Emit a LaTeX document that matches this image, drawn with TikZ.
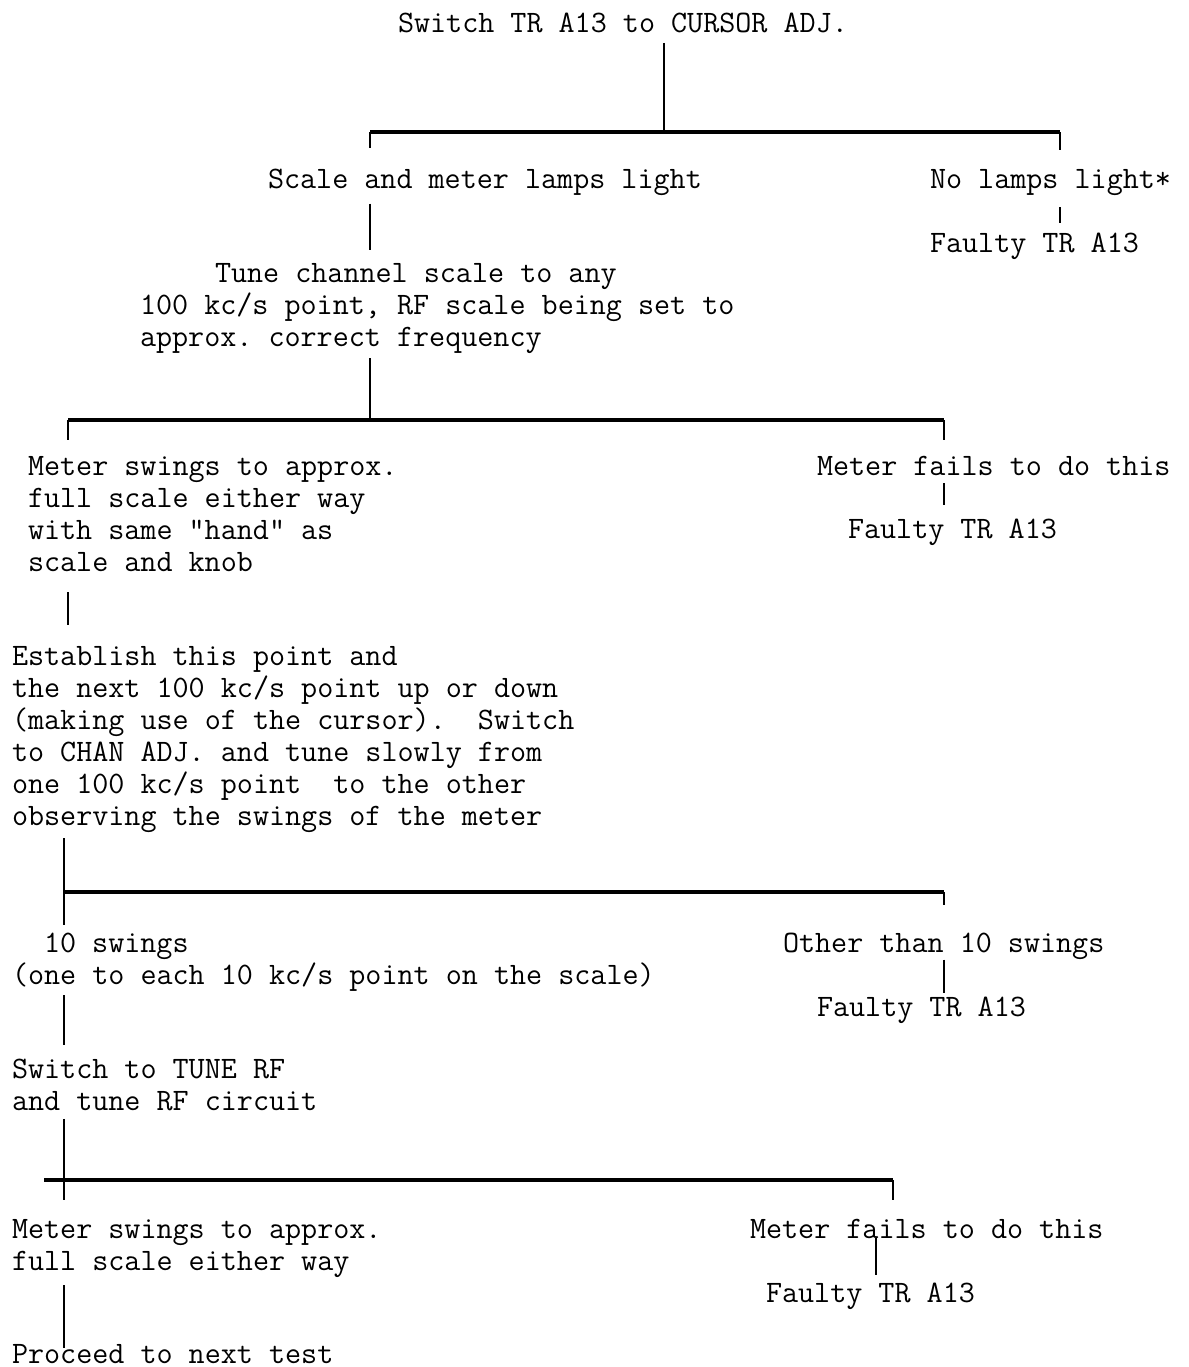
\documentclass[tikz,border=0pt]{standalone}
\usepackage{fontspec}
\newcommand\typer{\fontsize{15.6pt}{16pt}\selectfont\ttfamily\frenchspacing}
\begin{document}
\begin{tikzpicture}[x=0.5pt, y=-0.5pt,
    txt/.style={anchor=north west, inner sep=0pt, outer sep=0pt, align=left, font=\typer},
    link/.style={line width=0.9pt},
    bar/.style={line width=1.6pt}]
  \useasboundingbox (0,0) rectangle (1189,1367);
  % Statements
  \node[txt] (t0) at (398,13) {Switch TR A13 to CURSOR ADJ.};
  \node[txt] (lamps) at (268,169) {Scale and meter lamps light};
  \node[txt] (nolamps) at (930,169) {No lamps light*};
  \node[txt] (fault1) at (930,233) {Faulty TR A13};
  \node[txt] (tune) at (140,263) {\hspace*{37.5pt}Tune channel scale to any\\
    100 kc/s point, RF scale being set to\\approx. correct frequency};
  \node[txt] (meter1) at (28,456) {Meter swings to approx.\\full scale either way\\
    with same "hand" as\\scale and knob};
  \node[txt] (fail1) at (817,456) {Meter fails to do this};
  \node[txt] (fault2) at (848,519) {Faulty TR A13};
  \node[txt] (estab) at (12,646) {Establish this point and\\
    the next 100 kc/s point up or down\\(making use of the cursor).\ \ Switch\\
    to CHAN ADJ. and tune slowly from\\one 100 kc/s point\ \ to the other\\
    observing the swings of the meter};
  \node[txt] (ten) at (12,933) {\hspace*{16pt}10 swings\\(one to each 10 kc/s point on the scale)};
  \node[txt] (other) at (783,933) {Other than 10 swings};
  \node[txt] (fault3) at (817,997) {Faulty TR A13};
  \node[txt] (tunerf) at (12,1059) {Switch to TUNE RF\\and tune RF circuit};
  \node[txt] (meter2) at (12,1219) {Meter swings to approx.\\full scale either way};
  \node[txt] (fail2) at (750,1219) {Meter fails to do this};
  \node[txt] (fault4) at (766,1283) {Faulty TR A13};
  \node[txt] (proceed) at (12,1344) {Proceed to next test};
  % Branch points
  \coordinate (b1l) at (370,132);
  \coordinate (b1m) at (664,132);
  \coordinate (b1r) at (1060,132);
  \coordinate (b2l) at (68,420);
  \coordinate (b2m) at (370,420);
  \coordinate (b2r) at (944,420);
  \coordinate (b3l) at (64,892);
  \coordinate (b3r) at (944,892);
  \coordinate (b4l) at (44,1180);
  \coordinate (b4m) at (64,1180);
  \coordinate (b4r) at (893,1180);
  \coordinate (f4) at (876,1180);
  % First branch
  \draw[link, shorten <=5pt] (t0.south -| b1m) -- (b1m);
  \draw[bar] (b1l) -- (b1r);
  \draw[link, shorten >=10.5pt] (b1l) -- (lamps.north -| b1l);
  \draw[link, shorten >=9.5pt] (b1r) -- (nolamps.north -| b1r);
  \draw[link, shorten <=6pt, shorten >=5pt] (nolamps.south -| b1r) -- (fault1.north -| b1r);
  \draw[link, shorten <=4pt, shorten >=6.5pt] (lamps.south -| b1l) -- (tune.north -| b1l);
  % Second branch
  \draw[link, shorten <=2.5pt] (tune.south -| b2m) -- (b2m);
  \draw[bar] (b2l) -- (b2r);
  \draw[link, shorten >=8pt] (b2l) -- (meter1.north -| b2l);
  \draw[link, shorten >=8pt] (b2r) -- (fail1.north -| b2r);
  \draw[link, shorten <=4pt, shorten >=7pt] (fail1.south -| b2r) -- (fault2.north -| b2r);
  \draw[link, shorten <=10.5pt, shorten >=10.5pt] (meter1.south -| b2l) -- (estab.north -| b2l);
  % Third branch
  \draw[link, shorten <=3pt, shorten >=4pt] (estab.south -| b3l) -- (ten.north -| b3l);
  \draw[bar] (b3l) -- (b3r);
  \draw[link, shorten >=14pt] (b3r) -- (other.north -| b3r);
  \draw[link, shorten >=2pt] (other.south -| b3r) -- (fault3.north -| b3r);
  \draw[link, shorten <=2pt, shorten >=7pt] (ten.south -| b3l) -- (tunerf.north -| b3l);
  % Fourth branch
  \draw[link, shorten <=4pt, shorten >=9.5pt] (tunerf.south -| b4m) -- (meter2.north -| b4m);
  \draw[bar] (b4l) -- (b4r);
  \draw[link, shorten >=9.5pt] (b4r) -- (fail2.north -| b4r);
  \draw[link, shorten >=4pt] (fail2.south -| f4) -- (fault4.north -| f4);
  \draw[link, shorten <=4pt, shorten >=-2pt] (meter2.south -| b4m) -- (proceed.north -| b4m);
\end{tikzpicture}
\end{document}
